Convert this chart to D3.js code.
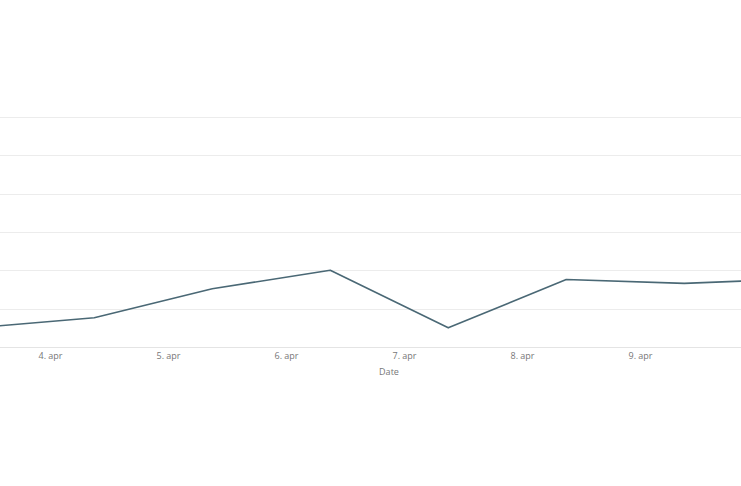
<!DOCTYPE html>
<html>
<head>
<meta charset="utf-8">
<script src="https://cdn.jsdelivr.net/npm/d3@7"></script>
<style>
html,body{margin:0;padding:0;background:#fff;}
svg{display:block;}
</style>
</head>
<body>
<svg id="chart" width="741" height="486"></svg>
<script>
// Data
const dates = ["2020-04-03T09:00","2020-04-04T09:00","2020-04-05T09:00","2020-04-06T09:00","2020-04-07T09:00","2020-04-08T09:00","2020-04-09T09:00","2020-04-10T09:00"];
const values = [5.0, 7.65, 15.2, 20.0, 5.0, 17.6, 16.6, 17.8];
const yTicks = [0, 10, 20, 30, 40, 50, 60];
const xTickDates = ["2020-04-04","2020-04-05","2020-04-06","2020-04-07","2020-04-08","2020-04-09"];
const xTitle = "Date";

const parse = d3.timeParse("%Y-%m-%dT%H:%M");
const parseDay = d3.timeParse("%Y-%m-%d");
const data = dates.map((d,i)=>({date:parse(d), value:values[i]}));

const svg = d3.select("#chart");
const W = 741;
const d0 = parseDay("2020-04-04");
const d1 = parseDay("2020-04-10");
const x = d3.scaleTime().domain([d0, d1]).range([50, 50 + 6*118]);
const y = d3.scaleLinear().domain([0, 60]).range([347, 117]);

// gridlines
svg.append("g").selectAll("line").data(yTicks).join("line")
  .attr("x1", 0).attr("x2", W)
  .attr("y1", d=>Math.round(y(d))+0.5).attr("y2", d=>Math.round(y(d))+0.5)
  .attr("stroke", d=> d===0 ? "#e4e4e4" : "#ececec")
  .attr("stroke-width", 1);

// x axis labels
const fmt = d => d.getDate() + ". apr";
const xAxis = d3.axisBottom(x).tickValues(xTickDates.map(parseDay)).tickFormat(fmt).tickSize(0).tickPadding(0);
const gx = svg.append("g").attr("transform", "translate(0,353)").call(xAxis);
gx.select(".domain").remove();
gx.selectAll("text")
  .attr("fill", "#777")
  .attr("dy", "0.71em")
  .style("font-family", "'Open Sans', 'DejaVu Sans', sans-serif")
  .style("font-size", "9px");

svg.append("text")
  .attr("x", 389).attr("y", 375)
  .attr("text-anchor", "middle")
  .attr("fill", "#777")
  .style("font-family", "'Open Sans', 'DejaVu Sans', sans-serif")
  .style("font-size", "9px")
  .text(xTitle);

// line
const line = d3.line().x(d=>x(d.date)).y(d=>y(d.value));
svg.append("path")
  .datum(data)
  .attr("d", line)
  .attr("fill", "none")
  .attr("stroke", "#4a6875")
  .attr("stroke-width", 1.6)
  .attr("stroke-linejoin", "round");
</script>
</body>
</html>
